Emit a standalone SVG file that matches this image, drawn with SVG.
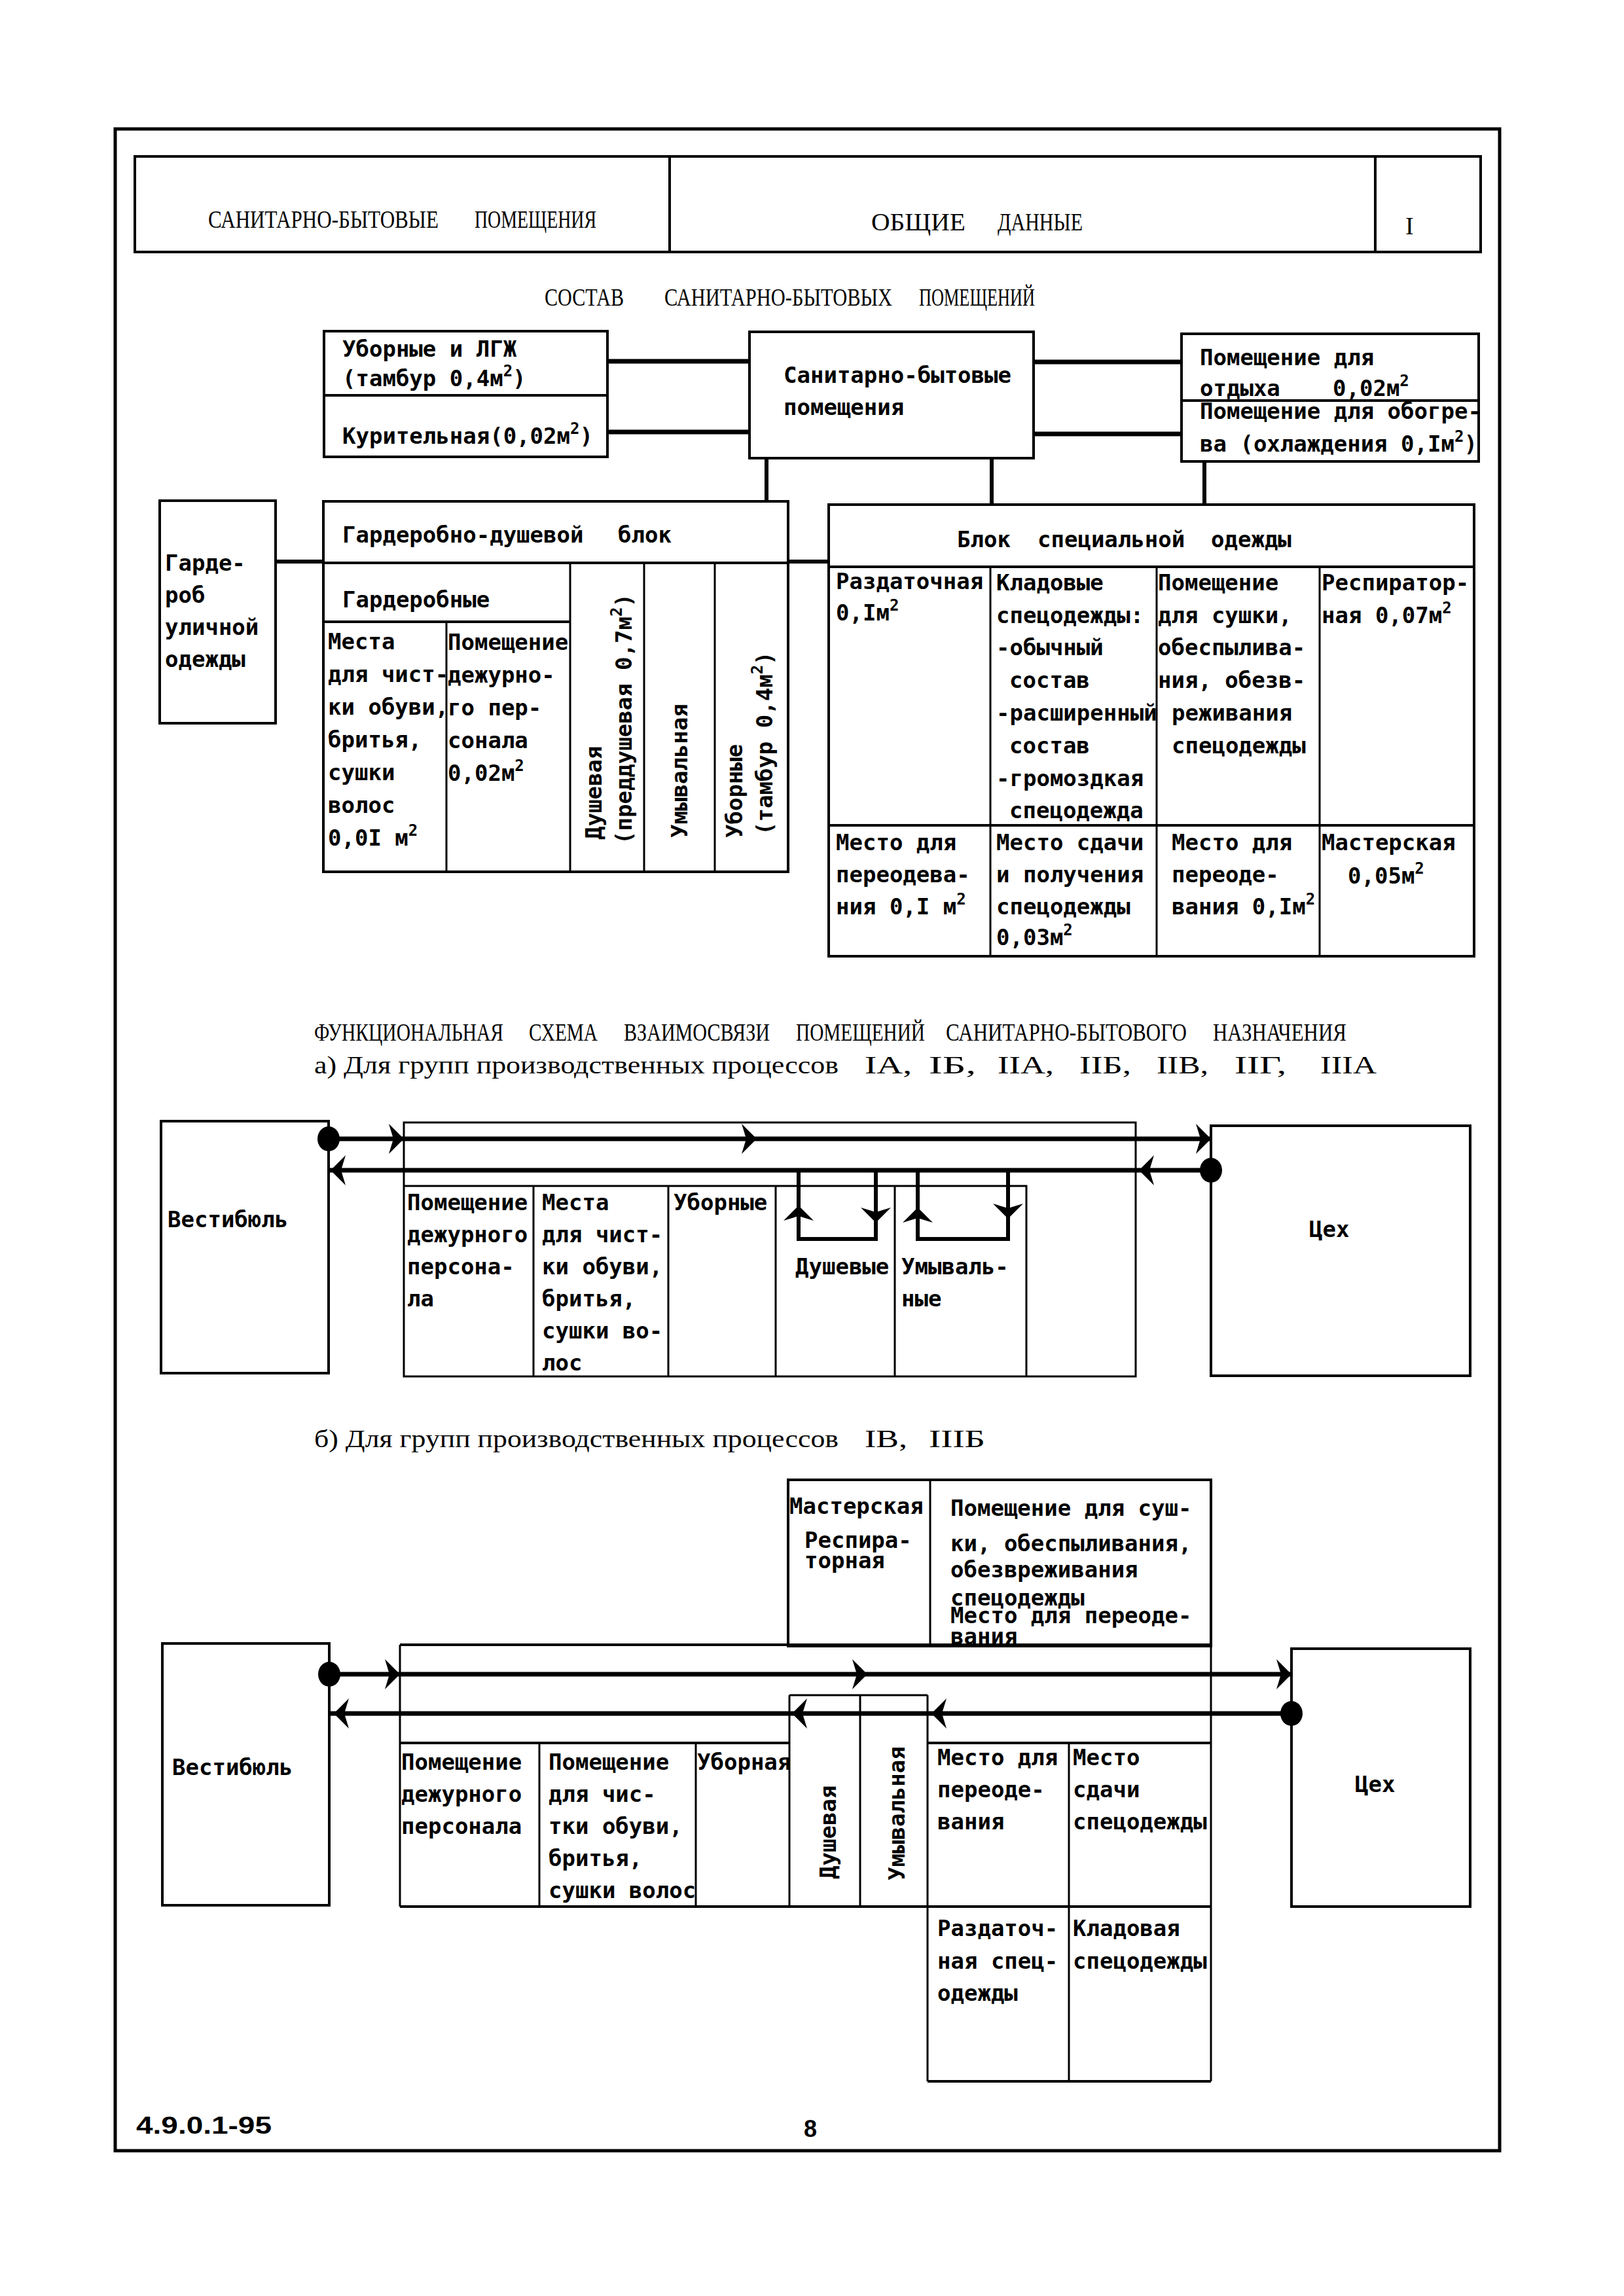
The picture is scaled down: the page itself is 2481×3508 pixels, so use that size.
<svg xmlns="http://www.w3.org/2000/svg" width="2481" height="3508" viewBox="0 0 2481 3508">
<style>
.b{fill:none;stroke:#000;stroke-width:4}
.t{fill:none;stroke:#000;stroke-width:3}
.k{fill:none;stroke:#000;stroke-width:7}
.v{fill:none;stroke:#000;stroke-width:6}
.m{font-family:"DejaVu Sans Mono","Liberation Mono",monospace;font-size:34px;font-weight:bold;fill:#000}
.h{font-family:"Liberation Serif","DejaVu Serif",serif;font-size:38px;fill:#000}
.s{font-size:24px}
.f{font-family:"Liberation Sans","DejaVu Sans",sans-serif;font-size:36px;font-weight:bold;fill:#000}
</style>
<defs>
<path id="ar" d="M0,0 L-23,-23 L-16,0 L-23,23 Z" fill="#000"/>
</defs>
<rect width="2481" height="3508" fill="#fff"/>
<rect x="176" y="197" width="2115" height="3089" fill="none" stroke="#000" stroke-width="5"/>

<g id="header">
<rect x="206" y="239" width="2056" height="146" class="b" stroke-width="5"/>
<line x1="1023" y1="239" x2="1023" y2="385" class="b"/>
<line x1="2101" y1="239" x2="2101" y2="385" class="b"/>
<text class="h" x="318" y="348" textLength="352" lengthAdjust="spacingAndGlyphs">САНИТАРНО-БЫТОВЫЕ</text>
<text class="h" x="725" y="348" textLength="186" lengthAdjust="spacingAndGlyphs">ПОМЕЩЕНИЯ</text>
<text class="h" x="1331" y="352" textLength="144" lengthAdjust="spacingAndGlyphs">ОБЩИЕ</text>
<text class="h" x="1524" y="352" textLength="130" lengthAdjust="spacingAndGlyphs">ДАННЫЕ</text>
<text class="h" x="2147" y="358" font-size="40">I</text>
</g>

<g id="title1">
<text class="h" x="832" y="467" textLength="121" lengthAdjust="spacingAndGlyphs">СОСТАВ</text>
<text class="h" x="1015" y="467" textLength="348" lengthAdjust="spacingAndGlyphs">САНИТАРНО-БЫТОВЫХ</text>
<text class="h" x="1404" y="467" textLength="177" lengthAdjust="spacingAndGlyphs">ПОМЕЩЕНИЙ</text>
</g>

<g id="connectors">
<line x1="928" y1="552" x2="1145" y2="552" class="k"/>
<line x1="928" y1="660" x2="1145" y2="660" class="k"/>
<line x1="1579" y1="553" x2="1805" y2="553" class="k"/>
<line x1="1579" y1="663" x2="1805" y2="663" class="k"/>
<line x1="1171" y1="700" x2="1171" y2="766" class="v"/>
<line x1="1515" y1="700" x2="1515" y2="772" class="v"/>
<line x1="1840" y1="705" x2="1840" y2="772" class="v"/>
<line x1="421" y1="858" x2="494" y2="858" class="v"/>
<line x1="1204" y1="858" x2="1266" y2="858" class="v"/>
</g>

<g id="n-ubornye">
<rect x="495" y="506" width="433" height="192" class="b"/>
<line x1="495" y1="604" x2="928" y2="604" class="b"/>
<text class="m" x="523" y="545">Уборные и ЛГЖ</text>
<text class="m" x="523" y="590">(тамбур 0,4м<tspan class="s" dy="-15">2</tspan><tspan dy="15">)</tspan></text>
<text class="m" x="523" y="678">Курительная(0,02м<tspan class="s" dy="-15">2</tspan><tspan dy="15">)</tspan></text>
</g>

<g id="n-sanbyt">
<rect x="1145" y="507" width="434" height="193" class="b"/>
<text class="m" x="1197" y="585">Санитарно-бытовые</text>
<text class="m" x="1197" y="634">помещения</text>
</g>

<g id="n-otdyh">
<rect x="1805" y="510" width="454" height="195" class="b"/>
<line x1="1805" y1="612" x2="2259" y2="612" class="b"/>
<text class="m" x="1833" y="558">Помещение для</text>
<text class="m" x="1833" y="605">отдыха</text>
<text class="m" x="2036" y="605">0,02м<tspan class="s" dy="-15">2</tspan></text>
<text class="m" x="1833" y="640">Помещение для обогре-</text>
<text class="m" x="1833" y="690">ва (охлаждения 0,Iм<tspan class="s" dy="-15">2</tspan><tspan dy="15">)</tspan></text>
</g>

<g id="n-garderob">
<rect x="244" y="765" width="177" height="340" class="b"/>
<text class="m" x="252" y="872">Гарде-</text>
<text class="m" x="252" y="921">роб</text>
<text class="m" x="252" y="970">уличной</text>
<text class="m" x="252" y="1019">одежды</text>
</g>

<g id="n-gd-blok">
<rect x="494" y="766" width="710" height="566" class="b"/>
<line x1="494" y1="860" x2="1204" y2="860" class="b"/>
<line x1="494" y1="950" x2="871" y2="950" class="b"/>
<line x1="682" y1="950" x2="682" y2="1332" class="t"/>
<line x1="871" y1="860" x2="871" y2="1332" class="t"/>
<line x1="984" y1="860" x2="984" y2="1332" class="t"/>
<line x1="1092" y1="860" x2="1092" y2="1332" class="t"/>
<text class="m" x="523" y="829">Гардеробно-душевой</text>
<text class="m" x="944" y="829">блок</text>
<text class="m" x="523" y="928">Гардеробные</text>
<text class="m" x="501" y="992">Места</text>
<text class="m" x="501" y="1042">для чист-</text>
<text class="m" x="501" y="1092">ки обуви,</text>
<text class="m" x="501" y="1142">бритья,</text>
<text class="m" x="501" y="1192">сушки</text>
<text class="m" x="501" y="1242">волос</text>
<text class="m" x="501" y="1292">0,0I м<tspan class="s" dy="-15">2</tspan></text>
<text class="m" x="684" y="993">Помещение</text>
<text class="m" x="684" y="1043">дежурно-</text>
<text class="m" x="684" y="1093">го пер-</text>
<text class="m" x="684" y="1143">сонала</text>
<text class="m" x="684" y="1193">0,02м<tspan class="s" dy="-15">2</tspan></text>
<text class="m" x="919" y="1283" transform="rotate(-90 919 1283)">Душевая</text>
<text class="m" x="965" y="1290" transform="rotate(-90 965 1290)">(преддушевая 0,7м<tspan class="s" dy="-15">2</tspan><tspan dy="15">)</tspan></text>
<text class="m" x="1050" y="1280" transform="rotate(-90 1050 1280)">Умывальная</text>
<text class="m" x="1134" y="1280" transform="rotate(-90 1134 1280)">Уборные</text>
<text class="m" x="1180" y="1276" transform="rotate(-90 1180 1276)">(тамбур 0,4м<tspan class="s" dy="-15">2</tspan><tspan dy="15">)</tspan></text>
</g>

<g id="n-spec-blok">
<rect x="1266" y="771" width="986" height="690" class="b"/>
<line x1="1266" y1="866" x2="2252" y2="866" class="b"/>
<line x1="1266" y1="1261" x2="2252" y2="1261" class="b"/>
<line x1="1513" y1="866" x2="1513" y2="1461" class="t"/>
<line x1="1767" y1="866" x2="1767" y2="1461" class="t"/>
<line x1="2016" y1="866" x2="2016" y2="1461" class="t"/>
<text class="m" x="1462" y="836">Блок</text>
<text class="m" x="1585" y="836">специальной</text>
<text class="m" x="1850" y="836">одежды</text>
<text class="m" x="1277" y="900">Раздаточная</text>
<text class="m" x="1277" y="948">0,Iм<tspan class="s" dy="-15">2</tspan></text>
<text class="m" x="1522" y="902">Кладовые</text>
<text class="m" x="1522" y="952">спецодежды:</text>
<text class="m" x="1522" y="1001">-обычный</text>
<text class="m" x="1542" y="1051">состав</text>
<text class="m" x="1522" y="1101">-расширенный</text>
<text class="m" x="1542" y="1151">состав</text>
<text class="m" x="1522" y="1201">-громоздкая</text>
<text class="m" x="1542" y="1250">спецодежда</text>
<text class="m" x="1769" y="902">Помещение</text>
<text class="m" x="1769" y="952">для сушки,</text>
<text class="m" x="1769" y="1001">обеспылива-</text>
<text class="m" x="1769" y="1051">ния, обезв-</text>
<text class="m" x="1790" y="1101">реживания</text>
<text class="m" x="1790" y="1151">спецодежды</text>
<text class="m" x="2019" y="902">Респиратор-</text>
<text class="m" x="2019" y="952">ная 0,07м<tspan class="s" dy="-15">2</tspan></text>
<text class="m" x="1277" y="1299">Место для</text>
<text class="m" x="1277" y="1348">переодева-</text>
<text class="m" x="1277" y="1397">ния 0,I м<tspan class="s" dy="-15">2</tspan></text>
<text class="m" x="1522" y="1299">Место сдачи</text>
<text class="m" x="1522" y="1348">и получения</text>
<text class="m" x="1522" y="1397">спецодежды</text>
<text class="m" x="1522" y="1444">0,03м<tspan class="s" dy="-15">2</tspan></text>
<text class="m" x="1790" y="1299">Место для</text>
<text class="m" x="1790" y="1348">переоде-</text>
<text class="m" x="1790" y="1397">вания 0,Iм<tspan class="s" dy="-15">2</tspan></text>
<text class="m" x="2019" y="1299">Мастерская</text>
<text class="m" x="2059" y="1350">0,05м<tspan class="s" dy="-15">2</tspan></text>
</g>

<g id="title2">
<text class="h" x="480" y="1590" textLength="289" lengthAdjust="spacingAndGlyphs">ФУНКЦИОНАЛЬНАЯ</text>
<text class="h" x="808" y="1590" textLength="105" lengthAdjust="spacingAndGlyphs">СХЕМА</text>
<text class="h" x="953" y="1590" textLength="223" lengthAdjust="spacingAndGlyphs">ВЗАИМОСВЯЗИ</text>
<text class="h" x="1216" y="1590" textLength="197" lengthAdjust="spacingAndGlyphs">ПОМЕЩЕНИЙ</text>
<text class="h" x="1445" y="1590" textLength="368" lengthAdjust="spacingAndGlyphs">САНИТАРНО-БЫТОВОГО</text>
<text class="h" x="1853" y="1590" textLength="204" lengthAdjust="spacingAndGlyphs">НАЗНАЧЕНИЯ</text>
<text class="h" x="480" y="1640" textLength="801" lengthAdjust="spacingAndGlyphs">а) Для групп производственных процессов</text>
<text class="h" x="1321" y="1640" textLength="72" lengthAdjust="spacingAndGlyphs">IA,</text>
<text class="h" x="1419" y="1640" textLength="72" lengthAdjust="spacingAndGlyphs">IБ,</text>
<text class="h" x="1524" y="1640" textLength="86" lengthAdjust="spacingAndGlyphs">IIA,</text>
<text class="h" x="1649" y="1640" textLength="79" lengthAdjust="spacingAndGlyphs">IIБ,</text>
<text class="h" x="1767" y="1640" textLength="79" lengthAdjust="spacingAndGlyphs">IIВ,</text>
<text class="h" x="1886" y="1640" textLength="79" lengthAdjust="spacingAndGlyphs">IIГ,</text>
<text class="h" x="2017" y="1640" textLength="86" lengthAdjust="spacingAndGlyphs">IIIA</text>
</g>

<g id="scheme-a">
<g id="a-vestibul">
<rect x="246" y="1713" width="256" height="385" class="b"/>
<text class="m" x="256" y="1875">Вестибюль</text>
</g>
<g id="a-koridor">
<rect x="617" y="1715" width="1118" height="388" class="t"/>
<polyline points="617,1812 1568,1812 1568,2103" class="t"/>
<line x1="815" y1="1812" x2="815" y2="2103" class="t"/>
<line x1="1021" y1="1812" x2="1021" y2="2103" class="t"/>
<line x1="1185" y1="1812" x2="1185" y2="2103" class="t"/>
<line x1="1367" y1="1812" x2="1367" y2="2103" class="t"/>
<text class="m" x="622" y="1849">Помещение</text>
<text class="m" x="622" y="1898">дежурного</text>
<text class="m" x="622" y="1947">персона-</text>
<text class="m" x="622" y="1996">ла</text>
<text class="m" x="828" y="1849">Места</text>
<text class="m" x="828" y="1898">для чист-</text>
<text class="m" x="828" y="1947">ки обуви,</text>
<text class="m" x="828" y="1996">бритья,</text>
<text class="m" x="828" y="2045">сушки во-</text>
<text class="m" x="828" y="2094">лос</text>
<text class="m" x="1029" y="1849">Уборные</text>
<text class="m" x="1215" y="1947">Душевые</text>
<text class="m" x="1377" y="1947">Умываль-</text>
<text class="m" x="1377" y="1996">ные</text>
</g>
<g id="a-ceh">
<rect x="1850" y="1720" width="396" height="382" class="b"/>
<text class="m" x="2000" y="1890">Цех</text>
</g>
<g id="a-connectors">
<line x1="502" y1="1740" x2="1850" y2="1740" class="k"/>
<line x1="502" y1="1788" x2="1850" y2="1788" class="k"/>
<ellipse cx="502" cy="1740" rx="17" ry="19"/>
<ellipse cx="1850" cy="1788" rx="17" ry="19"/>
<use href="#ar" transform="translate(617,1740)"/>
<use href="#ar" transform="translate(1156,1740)"/>
<use href="#ar" transform="translate(1850,1740)"/>
<use href="#ar" transform="translate(505,1788) rotate(180)"/>
<use href="#ar" transform="translate(1740,1788) rotate(180)"/>
<polyline points="1220,1788 1220,1893 1338,1893 1338,1788" class="v"/>
<polyline points="1402,1788 1402,1893 1540,1893 1540,1788" class="v"/>
<use href="#ar" transform="translate(1220,1842) rotate(-90)"/>
<use href="#ar" transform="translate(1338,1868) rotate(90)"/>
<use href="#ar" transform="translate(1402,1845) rotate(-90)"/>
<use href="#ar" transform="translate(1540,1862) rotate(90)"/>
</g>
</g>

<g id="title3">
<text class="h" x="480" y="2211" textLength="801" lengthAdjust="spacingAndGlyphs">б) Для групп производственных процессов</text>
<text class="h" x="1321" y="2211" textLength="65" lengthAdjust="spacingAndGlyphs">IВ,</text>
<text class="h" x="1419" y="2211" textLength="86" lengthAdjust="spacingAndGlyphs">IIIБ</text>
</g>

<g id="scheme-b">
<g id="b-vestibul">
<rect x="248" y="2511" width="255" height="400" class="b"/>
<text class="m" x="263" y="2712">Вестибюль</text>
</g>
<g id="b-upper">
<rect x="1204" y="2261" width="646" height="254" class="b"/>
<line x1="1421" y1="2261" x2="1421" y2="2515" class="t"/>
<text class="m" x="1206" y="2313">Мастерская</text>
<text class="m" x="1229" y="2365">Респира-</text>
<text class="m" x="1229" y="2396">торная</text>
<text class="m" x="1452" y="2316">Помещение для суш-</text>
<text class="m" x="1452" y="2370">ки, обеспыливания,</text>
<text class="m" x="1452" y="2410">обезвреживания</text>
<text class="m" x="1452" y="2453">спецодежды</text>
<text class="m" x="1452" y="2480">Место для переоде-</text>
<text class="m" x="1452" y="2512">вания</text>
</g>
<g id="b-koridor">
<line x1="611" y1="2513" x2="1850" y2="2513" class="b"/>
<line x1="611" y1="2513" x2="611" y2="2913" class="t"/>
<line x1="1850" y1="2513" x2="1850" y2="3180" class="t"/>
<line x1="611" y1="2663" x2="1206" y2="2663" class="b"/>
<line x1="1417" y1="2663" x2="1850" y2="2663" class="b"/>
<line x1="611" y1="2913" x2="1850" y2="2913" class="b"/>
<line x1="1206" y1="2590" x2="1417" y2="2590" class="t"/>
<line x1="824" y1="2663" x2="824" y2="2913" class="t"/>
<line x1="1063" y1="2663" x2="1063" y2="2913" class="t"/>
<line x1="1206" y1="2590" x2="1206" y2="2913" class="t"/>
<line x1="1314" y1="2590" x2="1314" y2="2913" class="t"/>
<line x1="1417" y1="2590" x2="1417" y2="3180" class="t"/>
<line x1="1633" y1="2663" x2="1633" y2="3180" class="t"/>
<line x1="1417" y1="3180" x2="1850" y2="3180" class="b"/>
<text class="m" x="613" y="2704">Помещение</text>
<text class="m" x="613" y="2753">дежурного</text>
<text class="m" x="613" y="2802">персонала</text>
<text class="m" x="838" y="2704">Помещение</text>
<text class="m" x="838" y="2753">для чис-</text>
<text class="m" x="838" y="2802">тки обуви,</text>
<text class="m" x="838" y="2851">бритья,</text>
<text class="m" x="838" y="2900">сушки волос</text>
<text class="m" x="1065" y="2704">Уборная</text>
<text class="m" x="1277" y="2871" transform="rotate(-90 1277 2871)">Душевая</text>
<text class="m" x="1382" y="2873" transform="rotate(-90 1382 2873)">Умывальная</text>
<text class="m" x="1432" y="2697">Место для</text>
<text class="m" x="1432" y="2746">переоде-</text>
<text class="m" x="1432" y="2795">вания</text>
<text class="m" x="1639" y="2697">Место</text>
<text class="m" x="1639" y="2746">сдачи</text>
<text class="m" x="1639" y="2795">спецодежды</text>
<text class="m" x="1432" y="2958">Раздаточ-</text>
<text class="m" x="1432" y="3008">ная спец-</text>
<text class="m" x="1432" y="3057">одежды</text>
<text class="m" x="1639" y="2958">Кладовая</text>
<text class="m" x="1639" y="3008">спецодежды</text>
</g>
<g id="b-ceh">
<rect x="1973" y="2519" width="273" height="394" class="b"/>
<text class="m" x="2070" y="2738">Цех</text>
</g>
<g id="b-connectors">
<line x1="503" y1="2558" x2="1973" y2="2558" class="k"/>
<line x1="503" y1="2618" x2="1973" y2="2618" class="k"/>
<ellipse cx="503" cy="2558" rx="17" ry="19"/>
<ellipse cx="1973" cy="2618" rx="17" ry="19"/>
<use href="#ar" transform="translate(611,2558)"/>
<use href="#ar" transform="translate(1325,2558)"/>
<use href="#ar" transform="translate(1973,2558)"/>
<use href="#ar" transform="translate(510,2618) rotate(180)"/>
<use href="#ar" transform="translate(1210,2618) rotate(180)"/>
<use href="#ar" transform="translate(1423,2618) rotate(180)"/>
</g>
</g>

<g id="footer">
<text class="f" x="208" y="3260" textLength="207" lengthAdjust="spacingAndGlyphs">4.9.0.1-95</text>
<text class="f" x="1228" y="3265">8</text>
</g>
</svg>
